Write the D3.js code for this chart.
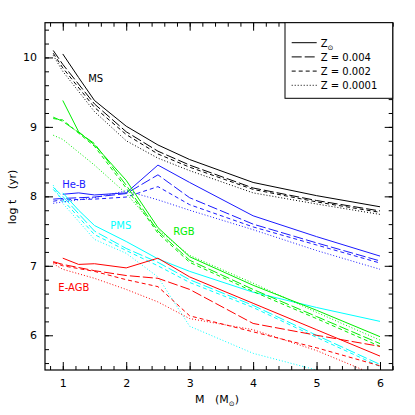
<!DOCTYPE html>
<html>
<head>
<meta charset="utf-8">
<script src="https://cdn.jsdelivr.net/npm/d3@7"></script>
<style>
  body { margin: 0; background: #fff; }
  text { font-family: "DejaVu Sans", sans-serif; fill: #000; }
</style>
</head>
<body>
<svg class="svgChart" width="415" height="415"></svg>
<script>
// masses (M sun): solar models start at 1, low Z models at 0.85
var massSolar = [1, 1.25, 1.5, 2, 2.5, 3, 4, 5, 6];
var massLow = [0.85, 1, 1.5, 2, 2.5, 3, 4, 5, 6];

// metallicity labels, same order as the rows below
var zLabels = ["Z", "Z = 0.004", "Z = 0.002", "Z = 0.0001"];

// log t (yr) per phase, rows: Zsun, 0.004, 0.002, 0.0001
var msT = [
  [10.05, 9.71, 9.38, 9.01, 8.74, 8.53, 8.20, 8.01, 7.85],
  [10.10, 9.90, 9.33, 8.93, 8.65, 8.45, 8.12, 7.94, 7.79],
  [10.06, 9.85, 9.28, 8.89, 8.61, 8.42, 8.10, 7.92, 7.77],
  [10.03, 9.80, 9.22, 8.80, 8.55, 8.37, 8.05, 7.89, 7.74]
];
var hebT = [
  [8.03, 8.05, 8.02, 8.05, 8.45, 8.20, 7.72, 7.42, 7.14],
  [7.96, 7.97, 7.99, 8.04, 8.31, 7.98, 7.60, 7.33, 7.07],
  [7.93, 7.95, 7.96, 7.99, 8.14, 7.88, 7.56, 7.30, 7.04],
  [7.90, 7.92, 7.98, 8.08, 7.95, 7.80, 7.52, 7.22, 6.95]
];
var pmsT = [
  [8.05, 7.80, 7.58, 7.35, 7.10, 6.92, 6.62, 6.40, 6.20],
  [8.13, 8.00, 7.50, 7.25, 7.05, 6.80, 6.43, 6.00, 5.58],
  [8.10, 7.95, 7.45, 7.22, 7.00, 6.76, 6.40, 5.97, 5.55],
  [8.16, 7.90, 7.38, 7.18, 6.84, 6.13, 5.74, 5.50, 5.30]
];
var rgbT = [
  [9.38, 8.93, 8.74, 8.23, 7.55, 7.13, 6.72, 6.36, 5.98],
  [9.14, 9.08, 8.76, 8.16, 7.50, 7.08, 6.66, 6.27, 5.88],
  [9.12, 9.10, 8.72, 8.12, 7.47, 7.05, 6.63, 6.24, 5.84],
  [8.88, 8.82, 8.45, 8.04, 7.52, 7.15, 6.75, 6.33, 5.93]
];
var eagbT = [
  [7.11, 7.02, 7.03, 6.97, 7.11, 6.84, 6.46, 6.08, 5.70],
  [7.06, 7.02, 6.93, 6.86, 6.82, 6.66, 6.17, 6.00, 5.84],
  [7.05, 7.00, 6.92, 6.80, 6.70, 6.28, 6.05, 5.82, 5.56],
  [7.03, 6.95, 6.82, 6.66, 6.48, 6.24, 6.08, 5.78, 5.40]
];

// axis ticks
var xMajor = [1, 2, 3, 4, 5, 6];
var yMajor = [6, 7, 8, 9, 10];

// set the dimensions and margins of the graph
var margin = {top: 22.7, right: 22.3, bottom: 45, left: 45};
var width = 415 - margin.left - margin.right;
var height = 415 - margin.top - margin.bottom;

var xScale = d3.scaleLinear().domain([0.72, 6.2]).range([0, width]);
var yScale = d3.scaleLinear().domain([5.5, 10.5]).range([height, 0]);

var xMinor = d3.range(0.8, 6.21, 0.2);
var yMinor = d3.range(5.6, 10.41, 0.2);

var svg = d3.select('.svgChart');
var g = svg.append('g')
    .attr('transform', 'translate(' + margin.left + ',' + margin.top + ')');

g.append('clipPath')
    .attr('id', 'plotClip')
  .append('rect')
    .attr('width', width)
    .attr('height', height);

// one entry per phase, colours kept here
var phases = [
  {name: 'MS', t: msT, color: '#000000'},
  {name: 'He-B', t: hebT, color: '#1a1aff'},
  {name: 'PMS', t: pmsT, color: '#00ffff'},
  {name: 'RGB', t: rgbT, color: '#00ee00'},
  {name: 'E-AGB', t: eagbT, color: '#ff0000'}
];
var dashes = [null, '10,3', '4,3', '1,2'];

var line = d3.line()
    .x(d => xScale(d[0]))
    .y(d => yScale(d[1]));

var curves = g.append('g').attr('clip-path', 'url(#plotClip)');
phases.forEach(function(p){
  p.t.forEach(function(row, i){
    var masses = i === 0 ? massSolar : massLow;
    curves.append('path')
        .datum(d3.zip(masses, row))
        .attr('d', line)
        .attr('fill', 'none')
        .attr('stroke', p.color)
        .attr('stroke-width', 1)
        .attr('stroke-dasharray', dashes[i]);
  });
});

// phase labels
var labels = [
  {text: 'MS', m: 1.40, t: 9.64, color: '#000000'},
  {text: 'He-B', m: 0.99, t: 8.12, color: '#1a1aff'},
  {text: 'PMS', m: 1.75, t: 7.53, color: '#00ffff'},
  {text: 'RGB', m: 2.74, t: 7.44, color: '#00ee00'},
  {text: 'E-AGB', m: 0.93, t: 6.63, color: '#ff0000'}
];
g.selectAll('.phaseLabel')
  .data(labels)
  .enter()
  .append('text')
    .attr('class', 'phaseLabel')
    .attr('x', d => xScale(d.m))
    .attr('y', d => yScale(d.t))
    .attr('font-size', 10)
    .style('fill', d => d.color)
    .text(d => d.text);

// ticks on all four sides, pointing inward
function drawTicks(axis, transform, size, values, fmt, pad){
  var a = g.append('g')
      .attr('transform', transform)
      .call(axis.tickValues(values).tickSize(-size).tickPadding(pad).tickFormat(fmt));
  a.select('.domain').remove();
  a.selectAll('line').attr('stroke', '#000');
  a.selectAll('text').attr('font-size', 11).attr('font-family', '"DejaVu Sans", sans-serif');
  return a;
}
var none = () => '';
drawTicks(d3.axisBottom(xScale), 'translate(0,' + height + ')', 4, xMinor, none, 0);
drawTicks(d3.axisBottom(xScale), 'translate(0,' + height + ')', 8, xMajor, d3.format('d'), 9);
drawTicks(d3.axisTop(xScale), 'translate(0,0)', 4, xMinor, none, 0);
drawTicks(d3.axisTop(xScale), 'translate(0,0)', 8, xMajor, none, 0);
drawTicks(d3.axisLeft(yScale), 'translate(0,0)', 4, yMinor, none, 0);
drawTicks(d3.axisLeft(yScale), 'translate(0,0)', 8, yMajor, d3.format('d'), 8);
drawTicks(d3.axisRight(yScale), 'translate(' + width + ',0)', 4, yMinor, none, 0);
drawTicks(d3.axisRight(yScale), 'translate(' + width + ',0)', 8, yMajor, none, 0);

// frame
g.append('rect')
    .attr('width', width)
    .attr('height', height)
    .attr('fill', 'none')
    .attr('stroke', '#000')
    .attr('stroke-width', 1.2);

// legend box in the upper right corner
var legendX = 240, legendH = 75.6;
var legend = g.append('g').attr('class', 'legend');
legend.append('rect')
    .attr('x', legendX)
    .attr('y', 0)
    .attr('width', width - legendX)
    .attr('height', legendH)
    .attr('fill', '#fff')
    .attr('stroke', '#000');

var rows = legend.selectAll('.row')
  .data(zLabels)
  .enter()
  .append('g')
    .attr('class', 'row')
    .attr('transform', (d, i) => 'translate(' + (legendX + 6.7) + ',' + (20 + i * 14.2) + ')');

rows.append('line')
    .attr('x1', 0)
    .attr('x2', 25)
    .attr('stroke', '#000')
    .attr('stroke-dasharray', (d, i) => dashes[i]);

var rowText = rows.append('text')
    .attr('x', 29)
    .attr('y', 4)
    .attr('font-size', 10)
    .style('white-space', 'pre')
    .text(d => d);
// sun symbol subscript on the first entry
rowText.filter((d, i) => i === 0)
  .append('tspan')
    .attr('dy', 3)
    .attr('font-size', 7)
    .text('\u2299');

// axis titles
svg.append('text')
    .attr('x', 195)
    .attr('y', 403)
    .attr('font-size', 11)
    .style('white-space', 'pre')
    .text('M   (M')
  .append('tspan')
    .attr('dy', 3)
    .attr('font-size', 7)
    .text('\u2299')
  .select(function(){ return this.parentNode; })
  .append('tspan')
    .attr('dy', -3)
    .text(')');

svg.append('text')
    .attr('transform', 'translate(16,197) rotate(-90)')
    .attr('text-anchor', 'middle')
    .attr('font-size', 11)
    .style('white-space', 'pre')
    .text('log t   (yr)');
</script>
</body>
</html>
